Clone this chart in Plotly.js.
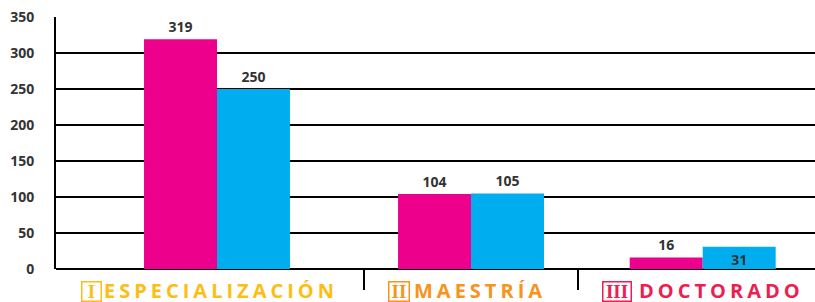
<!DOCTYPE html>
<html>
<head>
<meta charset="utf-8">
<script src="https://cdn.plot.ly/plotly-3.0.1.min.js"></script>
<style>
html,body{margin:0;padding:0;background:#fff;}
#chart{width:815px;height:302px;}
</style>
</head>
<body>
<div id="chart"></div>
<script>
// Data
const categories = ["Especialización", "Maestría", "Doctorado"];
const numerals = ["I", "II", "III"];
const labelWords = ["ESPECIALIZACIÓN", "MAESTRÍA", "DOCTORADO"];
const seriesA = [319, 104, 16];   // magenta
const seriesB = [250, 105, 31];   // cyan
const yTicks = [0, 50, 100, 150, 200, 250, 300, 350];

// Styles / layout
const W = 815, L = 56, T = 17, B = 33;
const plotW = W - L;
const labelColors = ["#FDBE14", "#F7941D", "#EC1F52"];
const boxCenters = [91.5, 399, 616.7];
const boxWidths = [21, 22, 30];
const wordLefts = [102.7, 413, 638];
const px = v => (v - L) / plotW;
const plotH = 302 - T - B;
const py = v => (302 - B - v) / plotH;

const barW = 0.3005;
const shift = [0, 0.046, 0];

const common = {
  type: "bar",
  x: categories,
  width: barW,
  textangle: 0,
  textfont: {family: "Open Sans", size: 14, color: "#333333", weight: "bold"},
  outsidetextfont: {family: "Open Sans", size: 14, color: "#333333", weight: "bold"},
  insidetextfont: {family: "Open Sans", size: 14, color: "#333333", weight: "bold"},
  cliponaxis: false,
  constraintext: "none",
  hoverinfo: "none"
};

const traceA = Object.assign({}, common, {
  y: seriesA,
  text: seriesA.map(String),
  textposition: "outside",
  offset: shift.map(s => -barW + s),
  marker: {color: "#EC008C", line: {width: 0}}
});
const traceB = Object.assign({}, common, {
  y: seriesB,
  text: seriesB.map(String),
  textposition: ["outside", "outside", "inside"],
  insidetextanchor: "end",
  offset: shift.map(s => s),
  marker: {color: "#00AEEF", line: {width: 0}}
});

const annotations = [];
numerals.forEach((n, i) => {
  annotations.push({
    xref: "paper", yref: "paper",
    x: px(boxCenters[i]), y: py(291.5), xanchor: "center", yanchor: "middle",
    text: n, showarrow: false,
    width: boxWidths[i] - 3, height: 18,
    bordercolor: labelColors[i], borderwidth: 1.5, borderpad: 0,
    font: {family: "Liberation Serif", size: 19, color: labelColors[i], weight: "bold"}
  });
  annotations.push({
    xref: "paper", yref: "paper",
    x: px(wordLefts[i]), y: py(290.5), xanchor: "left", yanchor: "middle",
    text: '<span style="letter-spacing:4px">' + labelWords[i] + '</span>',
    showarrow: false, height: 21, borderpad: 0,
    font: {family: "Open Sans", size: 20, color: labelColors[i], weight: "bold"}
  });
});

const shapes = [364, 578].map(v => ({
  type: "line", xref: "paper", yref: "paper",
  x0: px(v), x1: px(v), y0: 0, y1: py(290),
  line: {color: "#000", width: 2}
}));

const x0 = 217;
const unit = (702.7 - 217) / 2;
const layout = {
  width: 815, height: 302,
  margin: {l: L, r: 0, t: T, b: B, pad: 0},
  paper_bgcolor: "#fff", plot_bgcolor: "#fff",
  showlegend: false,
  barmode: "group",
  xaxis: {
    type: "category",
    range: [-(x0 - L) / unit, (W - x0) / unit],
    showticklabels: false, showgrid: false, zeroline: false, showline: false, ticks: ""
  },
  yaxis: {
    range: [0, 350], tickvals: yTicks, ticktext: yTicks.map(String),
    showgrid: true, gridcolor: "#000", gridwidth: 2,
    zeroline: true, zerolinecolor: "#000", zerolinewidth: 2.5,
    showline: true, linecolor: "#000", linewidth: 2,
    ticks: "", ticklabelstandoff: 17,
    tickfont: {family: "Open Sans", size: 14, color: "#333333", weight: "bold"}
  },
  annotations: annotations,
  shapes: shapes
};

Plotly.newPlot("chart", [traceA, traceB], layout, {staticPlot: true, displayModeBar: false});
</script>
</body>
</html>
